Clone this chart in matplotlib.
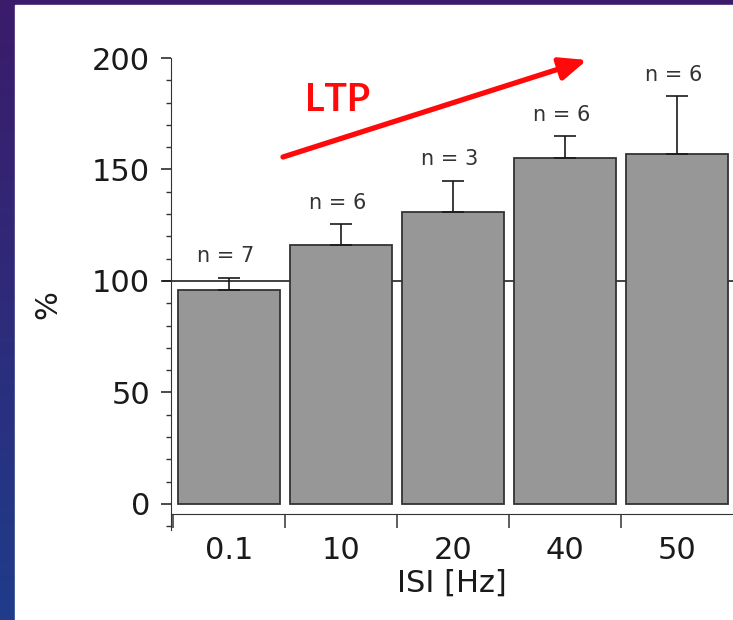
import numpy as np
import matplotlib
matplotlib.use('Agg')
import matplotlib.pyplot as plt
from matplotlib.ticker import MultipleLocator, FixedLocator

# values
categories = ['0.1', '10', '20', '40', '50']
means = [96, 116, 131, 155, 157]
err_up = [5.5, 9.5, 14, 10, 26]
n_labels = ['n = 7', 'n = 6', 'n = 3', 'n = 6', 'n = 6']

W, H = 733, 620
fig = plt.figure(figsize=(W / 100, H / 100), dpi=100)

# slide background: purple -> blue gradient, white panel on top
bg = fig.add_axes([0, 0, 1, 1], zorder=-10)
grad = np.linspace(0, 1, 256).reshape(-1, 1)
top = np.array([0x3c, 0x1b, 0x6b]) / 255
bot = np.array([0x1f, 0x3c, 0x8a]) / 255
img = top[None, None, :] * (1 - grad[:, :, None]) + bot[None, None, :] * grad[:, :, None]
bg.imshow(img, aspect='auto', extent=[0, 1, 0, 1])
bg.add_patch(plt.Rectangle((15 / W, 0), 1, (H - 5) / H, color='white'))
bg.set_xlim(0, 1)
bg.set_ylim(0, 1)
bg.axis('off')

# main chart
left, right = 171 / W, 1.0
bottom, top_px = (H - 530) / H, (H - 58) / H
ax = fig.add_axes([left, bottom, right - left, top_px - bottom])
ax.patch.set_alpha(0)

x = np.arange(len(categories))
ax.axhline(100, color='#222222', lw=1.2, zorder=1, xmin=-0.015, clip_on=False)
ax.bar(x, means, width=0.91, color='#979797', edgecolor='#333333', lw=1.3, zorder=2)
ax.errorbar(x, means, yerr=[np.zeros(len(x)), err_up], fmt='none', ecolor='#1a1a1a',
            elinewidth=1.2, capsize=8, capthick=1.2, zorder=3)
for xi, m, e, lab in zip(x, means, err_up, n_labels):
    ax.text(xi - 0.03, m + e + 5, lab, ha='center', va='bottom', fontsize=15, color='#333333')

ax.set_xlim(-0.52, 4.5)
ax.set_ylim(-11.7, 200)

for s in ['top', 'right']:
    ax.spines[s].set_visible(False)
ax.spines['left'].set_bounds(-11.7, 200)
ax.spines['left'].set_color('#333333')
ax.spines['bottom'].set_position(('data', -4.5))
ax.spines['bottom'].set_color('#333333')

ax.yaxis.set_major_locator(MultipleLocator(50))
ax.yaxis.set_minor_locator(MultipleLocator(10))
ax.tick_params(axis='y', which='major', length=7, width=1.1, pad=8, labelsize=22, colors='#1a1a1a')
ax.tick_params(axis='y', which='minor', length=3.5, width=1.0, colors='#333333')

ax.xaxis.set_major_locator(FixedLocator([-0.5, 0.5, 1.5, 2.5, 3.5]))
ax.xaxis.set_minor_locator(FixedLocator(x))
ax.set_xticklabels([], minor=False)
ax.set_xticklabels(categories, minor=True)
ax.tick_params(axis='x', which='major', length=10, width=1.1, direction='out', colors='#333333')
ax.tick_params(axis='x', which='minor', length=0, pad=16, labelsize=22, labelcolor='#1a1a1a')

fig.text(452 / W, 1 - 583 / H, 'ISI [Hz]', ha='center', va='center', fontsize=22, color='#1a1a1a')
fig.text(48 / W, 1 - 305 / H, '%', ha='center', va='center', rotation=90, fontsize=22, color='#1a1a1a')

# red arrow + LTP note
ax.annotate('', xy=(587, H - 60), xycoords='figure pixels',
            xytext=(283, H - 157), textcoords='figure pixels',
            arrowprops=dict(arrowstyle='-|>,head_length=0.9,head_width=0.38',
                            color='#ff0a0a', lw=3.8, mutation_scale=18, shrinkA=0, shrinkB=0))
fig.text(338 / W, 1 - 100 / H, 'LTP', ha='center', va='center', fontsize=27,
         fontweight='bold', color='#ff0a0a', family=['Lato', 'DejaVu Sans'])

plt.savefig('out.png', dpi=100)
